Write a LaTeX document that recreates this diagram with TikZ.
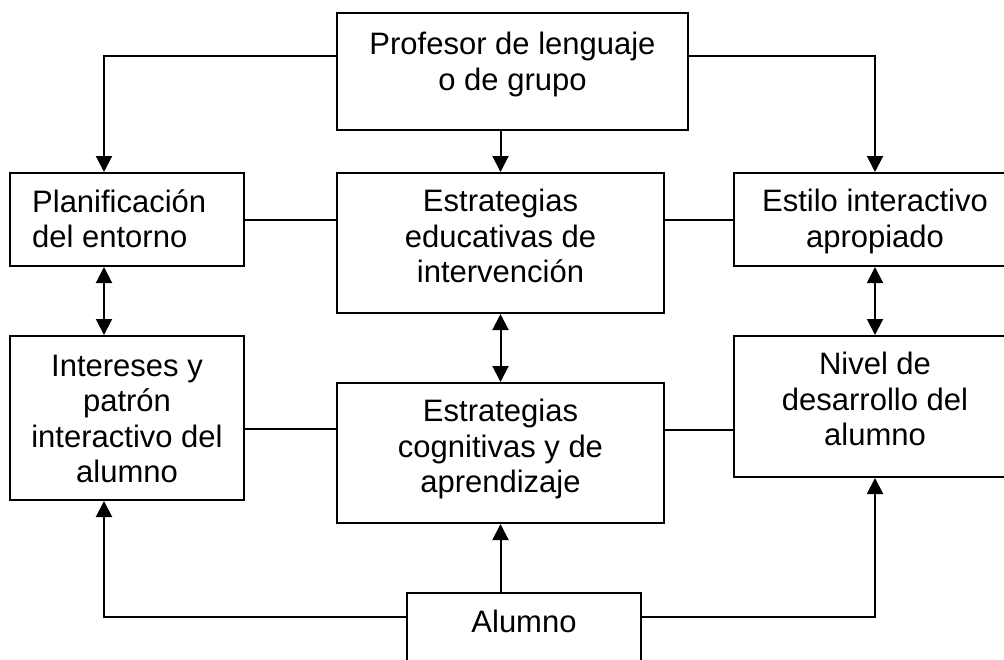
\documentclass[tikz,border=0pt]{standalone}
\usepackage{fontspec}
\setmainfont{Liberation Sans}
\usetikzlibrary{arrows.meta}
\tikzset{
  box/.style={draw=black, line width=2pt, rectangle, inner sep=0pt, fill=white},
  txt/.style={inner sep=0pt, align=center, font=\fontsize{31}{35.5}\selectfont},
  txtl/.style={inner sep=0pt, align=left, font=\fontsize{31}{35.5}\selectfont},
  conn/.style={line width=2pt, draw=black},
  arr/.style={conn, -{Triangle[length=16pt,width=16pt]}},
  dbl/.style={conn, {Triangle[length=16pt,width=16pt]}-{Triangle[length=16pt,width=16pt]}}
}
\begin{document}
\begin{tikzpicture}[x=1pt,y=-1pt]
\useasboundingbox (0,0) rectangle (1004,659);
\clip (0,0) rectangle (1004,659);
\fill[white] (0,0) rectangle (1004,659);
% boxes
\node[box, minimum width=351pt, minimum height=117pt] (prof) at (512.5,71.5) {};
\node[box, minimum width=327pt, minimum height=140pt] (edu) at (500.5,243) {};
\node[box, minimum width=234pt, minimum height=93pt] (plan) at (127,219.5) {};
\node[box, minimum width=282pt, minimum height=93pt] (est) at (875,219.5) {};
\node[box, minimum width=234pt, minimum height=164pt] (int) at (127,418) {};
\node[box, minimum width=327pt, minimum height=140pt] (cog) at (500.5,453) {};
\node[box, minimum width=282pt, minimum height=141pt] (niv) at (875,406.5) {};
\node[box, minimum width=234pt, minimum height=97pt] (alu) at (524,641.5) {};
% texts
\node[txt] (proft) at (512.5,64.7) {Profesor de lenguaje\\o de grupo};
\node[txt] (edut) at (500.5,236) {Estrategias\\educativas de\\intervención};
\node[txtl, anchor=west] (plant) at (32,218.5) {Planificación\\del entorno};
\node[txt] (estt) at (875,221.7) {Estilo interactivo\\apropiado};
\node[txt] (intt) at (127,419) {Intereses y\\patrón\\interactivo del\\alumno};
\node[txt] (cogt) at (500.5,449) {Estrategias\\cognitivas y de\\aprendizaje};
\node[txt] (nivt) at (875,399) {Nivel de\\desarrollo del\\alumno};
\node[txt] (alut) at (524,621) {Alumno};
% connectors
\draw[arr] (prof.west |- 0,56) -| ([xshift=-23pt]plan.north);
\draw[arr] (edu.north |- prof.south) -- (edu.north);
\draw[arr] (prof.east |- 0,56) -| (est.north);
\draw[conn] (plan.east) -- (plan.east -| edu.west);
\draw[conn] (est.west -| edu.east) -- (est.west);
\draw[dbl] ([xshift=-23pt]plan.south) -- ([xshift=-23pt]plan.south |- int.north);
\draw[dbl] (est.south) -- (niv.north);
\draw[dbl] (edu.south) -- (cog.north);
\draw[conn] ([yshift=-11pt]int.east) -- ([yshift=-11pt]int.east -| cog.west);
\draw[conn] ([yshift=-23.5pt]niv.west -| cog.east) -- ([yshift=-23.5pt]niv.west);
\draw[arr] (cog.south |- alu.north) -- (cog.south);
\draw[arr] (alu.west |- 0,617) -| ([xshift=-23pt]int.south);
\draw[arr] (alu.east |- 0,617) -| (niv.south);
\end{tikzpicture}
\end{document}
